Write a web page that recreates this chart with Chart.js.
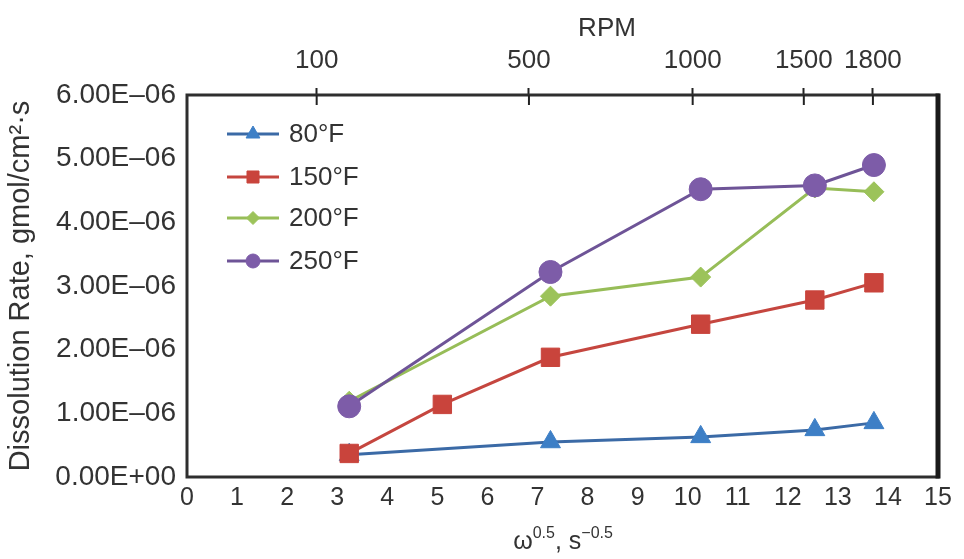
<!DOCTYPE html>
<html><head><meta charset="utf-8">
<script src="https://cdn.jsdelivr.net/npm/chart.js@4.4.1/dist/chart.umd.min.js"></script>
<style>html,body{margin:0;padding:0;background:#fff}#wrap{width:964px;height:559px}</style>
</head><body><div id="wrap"><canvas id="c" width="964" height="559"></canvas></div>
<script>
// ---- data ----
const seriesNames = ['80°F', '150°F', '200°F', '250°F'];
const omega5 = [3.24, 7.26, 10.26, 12.54, 13.72];          // ω^0.5 for most series
const omega150 = [3.24, 5.1, 7.26, 10.26, 12.54, 13.72];    // 150°F has an extra point
const rate80  = [0.35e-6, 0.55e-6, 0.63e-6, 0.74e-6, 0.85e-6];
const rate150 = [0.37e-6, 1.14e-6, 1.88e-6, 2.40e-6, 2.78e-6, 3.05e-6];
const rate200 = [1.19e-6, 2.84e-6, 3.14e-6, 4.54e-6, 4.48e-6];
const rate250 = [1.11e-6, 3.22e-6, 4.52e-6, 4.58e-6, 4.90e-6];
const yTickValues = [0, 1e-6, 2e-6, 3e-6, 4e-6, 5e-6, 6e-6];
const yTickLabels = ['0.00E+00', '1.00E–06', '2.00E–06', '3.00E–06', '4.00E–06', '5.00E–06', '6.00E–06'];
const xTickValues = [0,1,2,3,4,5,6,7,8,9,10,11,12,13,14,15];
const rpmTickLabels = ['100', '500', '1000', '1500', '1800'];
const rpmTickPositions = [2.59, 6.83, 10.1, 12.32, 13.7];

// ---- styles ----
const markerColors = ['#3d7fc6', '#c9443c', '#9cc35a', '#7d5ca8'];
const lineColors   = ['#3b6aa6', '#c5463f', '#97bd58', '#6e5497'];
const styles = ['triangle', 'rect', 'rectRot', 'circle'];
const radii = [11.5, 13, 10, 11.5];
const legendRadii = [8, 8.5, 6.5, 7];
const TXT = '#333';
const FONT = "'Liberation Sans', Arial, sans-serif";

function pts(xs, ys) { return xs.map((x, i) => ({x: x, y: ys[i]})); }
const dataSets = [pts(omega5, rate80), pts(omega150, rate150), pts(omega5, rate200), pts(omega5, rate250)];

const datasets = dataSets.map((d, i) => ({
  label: seriesNames[i],
  data: d,
  borderColor: lineColors[i],
  backgroundColor: markerColors[i],
  pointBackgroundColor: markerColors[i],
  pointBorderColor: markerColors[i],
  pointBorderWidth: 1,
  pointStyle: styles[i],
  pointRadius: radii[i],
  pointHoverRadius: radii[i],
  borderWidth: 3,
  tension: 0,
  order: 3 - i
}));

function drawShape(ctx, style, r, x, y, color) {
  if (Chart.helpers && Chart.helpers.drawPoint) {
    ctx.fillStyle = color; ctx.strokeStyle = color; ctx.lineWidth = 1;
    Chart.helpers.drawPoint(ctx, {pointStyle: style, radius: r, rotation: 0, borderWidth: 1}, x, y);
    return;
  }
  ctx.fillStyle = color;
  ctx.beginPath();
  if (style === 'circle') ctx.arc(x, y, r, 0, Math.PI * 2);
  else if (style === 'rect') { const s = r * Math.SQRT1_2; ctx.rect(x - s, y - s, 2 * s, 2 * s); }
  else if (style === 'rectRot') { ctx.moveTo(x, y - r); ctx.lineTo(x + r, y); ctx.lineTo(x, y + r); ctx.lineTo(x - r, y); ctx.closePath(); }
  else if (style === 'triangle') { ctx.moveTo(x, y - r); ctx.lineTo(x + r * 0.866, y + r / 2); ctx.lineTo(x - r * 0.866, y + r / 2); ctx.closePath(); }
  ctx.fill();
}

const framePlugin = {
  id: 'frame',
  beforeDatasetsDraw(chart) {
    const a = chart.chartArea, ctx = chart.ctx;
    ctx.save();
    ctx.strokeStyle = '#2e2e2e';
    ctx.lineWidth = 3;
    ctx.strokeRect(a.left, a.top, a.right - a.left, a.bottom - a.top);
    ctx.lineWidth = 5;
    ctx.strokeStyle = '#1a1a1a';
    ctx.beginPath(); ctx.moveTo(a.right, a.top - 1.5); ctx.lineTo(a.right, a.bottom + 1.5); ctx.stroke();
    // inner part of top RPM ticks
    const s = chart.scales.xTop;
    ctx.lineWidth = 2; ctx.strokeStyle = '#222';
    s.ticks.forEach(t => {
      const px = s.getPixelForValue(t.value);
      ctx.beginPath(); ctx.moveTo(px, a.top); ctx.lineTo(px, a.top + 10); ctx.stroke();
    });
    ctx.restore();
  },
  afterDraw(chart) {
    const ctx = chart.ctx;
    ctx.save();
    ctx.fillStyle = TXT;
    // top title
    ctx.font = "26px " + FONT;
    ctx.textAlign = 'center'; ctx.textBaseline = 'middle';
    ctx.fillText('RPM', 607, 29);
    // bottom title with superscripts
    const big = "25px " + FONT, small = "16px " + FONT;
    const parts = [['ω', big, 0], ['0.5', small, -11], [', s', big, 0], ['−0.5', small, -11]];
    let w = 0;
    parts.forEach(p => { ctx.font = p[1]; w += ctx.measureText(p[0]).width; });
    let x = 563 - w / 2;
    ctx.textAlign = 'left'; ctx.textBaseline = 'alphabetic';
    parts.forEach(p => { ctx.font = p[1]; ctx.fillText(p[0], x, 549 + p[2]); x += ctx.measureText(p[0]).width; });
    // legend
    const rows = [134, 177, 218, 261];
    ctx.font = "26px " + FONT;
    ctx.textBaseline = 'middle';
    rows.forEach((ry, i) => {
      ctx.strokeStyle = lineColors[i]; ctx.lineWidth = 3;
      ctx.beginPath(); ctx.moveTo(227, ry); ctx.lineTo(279, ry); ctx.stroke();
      drawShape(ctx, styles[i], legendRadii[i], 253, ry, markerColors[i]);
      ctx.fillStyle = TXT;
      ctx.textAlign = 'left';
      ctx.fillText(seriesNames[i], 289, ry + 1);
    });
    ctx.restore();
  }
};

new Chart(document.getElementById('c'), {
  type: 'line',
  data: { datasets: datasets },
  plugins: [framePlugin],
  options: {
    responsive: false,
    devicePixelRatio: 1,
    animation: false,
    events: [],
    layout: { padding: { left: 0, right: 26, top: 0, bottom: 0 } },
    plugins: { legend: { display: false }, tooltip: { enabled: false }, title: { display: false } },
    scales: {
      x: {
        type: 'linear', position: 'bottom', min: 0, max: 15,
        afterBuildTicks: s => { s.ticks = xTickValues.map(v => ({value: v})); },
        ticks: { callback: (v, i) => String(xTickValues[i]), font: { size: 25, family: FONT }, color: TXT, padding: 6, autoSkip: false, maxRotation: 0 },
        grid: { display: false, drawTicks: false },
        border: { display: false },
        afterFit: s => { s.height = 82; }
      },
      xTop: {
        type: 'linear', position: 'top', min: 0, max: 15,
        afterBuildTicks: s => { s.ticks = rpmTickPositions.map(v => ({value: v})); },
        ticks: { callback: (v, i) => rpmTickLabels[i], font: { size: 26, family: FONT }, color: TXT, padding: 12, autoSkip: false, maxRotation: 0 },
        grid: { display: true, drawOnChartArea: false, drawTicks: true, tickLength: 7, tickWidth: 2, tickColor: '#222', color: '#222' },
        border: { display: false },
        afterFit: s => { s.height = 95; }
      },
      y: {
        type: 'linear', position: 'left', min: 0, max: 6e-6,
        afterBuildTicks: s => { s.ticks = yTickValues.map(v => ({value: v})); },
        ticks: { callback: (v, i) => yTickLabels[i], font: { size: 28, family: FONT }, color: TXT, padding: 11, autoSkip: false },
        grid: { display: false, drawTicks: false },
        border: { display: false },
        title: { display: true, text: 'Dissolution Rate, gmol/cm²·s', font: { size: 29, family: FONT }, color: TXT, padding: { top: 4, bottom: 0 } },
        afterFit: s => { s.width = 187; }
      }
    }
  }
});
</script>
</body></html>
